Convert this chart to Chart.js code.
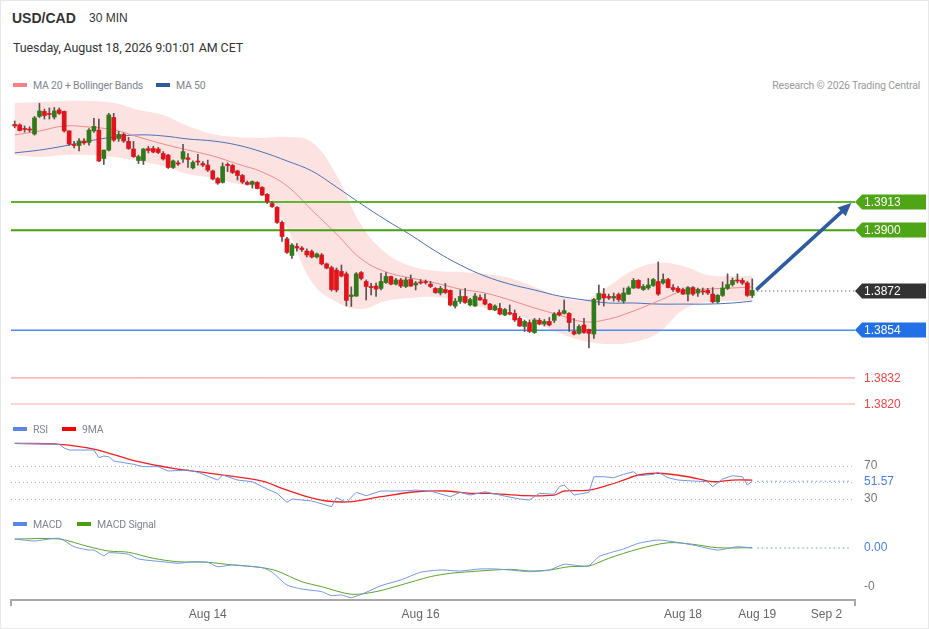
<!DOCTYPE html>
<html>
<head>
<meta charset="utf-8">
<title>USD/CAD 30 MIN</title>
<script src="https://cdn.jsdelivr.net/npm/chart.js@4.4.1/dist/chart.umd.min.js"></script>
<style>
  body { margin: 0; background: #fff; font-family: Roboto, "Liberation Sans", Arial, sans-serif; }
  #page { position: relative; width: 929px; height: 629px; overflow: hidden; outline: 1px solid #e8e8e8; outline-offset: -1px; }
  #page canvas { position: absolute; left: 0; }
  .txt { position: absolute; white-space: nowrap; line-height: 1; color: #333; }
  .leg { position: absolute; white-space: nowrap; font-size: 10.5px; letter-spacing: -0.2px; color: #80868f; line-height: 1; }
  .sw { display: inline-block; width: 14px; height: 4px; margin-right: 6px; vertical-align: 2px; }
</style>
</head>
<body>
<div id="page">
  <canvas id="main" width="929" height="320" style="top:95px"></canvas>
  <canvas id="rsi" width="929" height="95" style="top:420px"></canvas>
  <canvas id="macd" width="929" height="114" style="top:515px"></canvas>

  <div class="txt" style="left:12px;top:11px;font-size:14px;font-weight:bold;font-family:'Liberation Sans',Arial,sans-serif">USD/CAD</div>
  <div class="txt" style="left:89px;top:12px;font-size:12px;font-family:'Liberation Sans',Arial,sans-serif">30 MIN</div>
  <div class="txt" style="left:13px;top:42px;font-size:12.5px;letter-spacing:-0.1px">Tuesday, August 18, 2026 9:01:01 AM CET</div>

  <div class="leg" style="left:13px;top:81px"><span class="sw" style="background:#f98080"></span>MA 20 + Bollinger Bands</div>
  <div class="leg" style="left:156px;top:81px"><span class="sw" style="background:#2f5b9c"></span>MA 50</div>
  <div class="leg" style="right:9px;top:81px;color:#9a9a9a">Research © 2026 Trading Central</div>
  <div class="leg" style="left:13px;top:425px"><span class="sw" style="background:#5b86e5"></span>RSI</div>
  <div class="leg" style="left:62px;top:425px"><span class="sw" style="background:#f00"></span>9MA</div>
  <div class="leg" style="left:13px;top:520px"><span class="sw" style="background:#5b86e5"></span>MACD</div>
  <div class="leg" style="left:77px;top:520px"><span class="sw" style="background:#4a9e12"></span>MACD Signal</div>
</div>

<script>
// candles, 30 min (index 0 = first candle)
const open = [
  1.39487,1.39485,1.39466,1.39466,1.39443,1.39524,1.39547,1.39536,1.39521,1.39554,
  1.39547,1.39457,1.39395,1.39390,1.39411,1.39404,1.39457,1.39461,1.39330,1.39369,
  1.39519,1.39422,1.39441,1.39409,1.39374,1.39321,1.39321,1.39376,1.39376,1.39374,
  1.39353,1.39346,1.39289,1.39310,1.39328,1.39333,1.39287,1.39317,1.39307,1.39300,
  1.39273,1.39238,1.39220,1.39303,1.39298,1.39273,1.39252,1.39220,1.39211,1.39220,
  1.39197,1.39165,1.39123,1.39105,1.39036,1.38960,1.38884,1.38925,1.38918,1.38904,
  1.38902,1.38877,1.38886,1.38845,1.38828,1.38817,1.38810,1.38799,1.38695,1.38697,
  1.38805,1.38764,1.38741,1.38743,1.38732,1.38759,1.38787,1.38752,1.38771,1.38741,
  1.38773,1.38748,1.38762,1.38762,1.38752,1.38732,1.38711,1.38727,1.38723,1.38651,
  1.38672,1.38695,1.38656,1.38651,1.38690,1.38681,1.38660,1.38633,1.38640,1.38610,
  1.38621,1.38617,1.38594,1.38557,1.38575,1.38529,1.38585,1.38568,1.38580,1.38585,
  1.38621,1.38617,1.38617,1.38534,1.38525,1.38564,1.38543,1.38522,1.38681,1.38706,
  1.38695,1.38688,1.38704,1.38674,1.38706,1.38734,1.38769,1.38727,1.38734,1.38746,
  1.38764,1.38757,1.38773,1.38736,1.38732,1.38727,1.38706,1.38736,1.38711,1.38720,
  1.38723,1.38706,1.38670,1.38700,1.38732,1.38750,1.38771,1.38769,1.38757,1.38700
];
const high = [
  1.39503,1.39490,1.39480,1.39476,1.39524,1.39584,1.39558,1.39563,1.39565,1.39563,
  1.39549,1.39459,1.39409,1.39422,1.39422,1.39468,1.39515,1.39512,1.39369,1.39538,
  1.39538,1.39455,1.39448,1.39427,1.39409,1.39346,1.39376,1.39386,1.39386,1.39381,
  1.39362,1.39349,1.39323,1.39319,1.39395,1.39353,1.39319,1.39349,1.39316,1.39323,
  1.39277,1.39243,1.39310,1.39310,1.39303,1.39277,1.39257,1.39227,1.39227,1.39224,
  1.39201,1.39169,1.39132,1.39109,1.39043,1.38967,1.38939,1.38939,1.38925,1.38914,
  1.38909,1.38895,1.38893,1.38849,1.38835,1.38826,1.38840,1.38808,1.38739,1.38805,
  1.38810,1.38771,1.38755,1.38757,1.38801,1.38805,1.38789,1.38778,1.38778,1.38782,
  1.38794,1.38764,1.38773,1.38771,1.38764,1.38736,1.38741,1.38755,1.38725,1.38686,
  1.38725,1.38732,1.38686,1.38709,1.38702,1.38706,1.38663,1.38656,1.38663,1.38640,
  1.38656,1.38633,1.38603,1.38587,1.38587,1.38594,1.38594,1.38589,1.38598,1.38621,
  1.38633,1.38679,1.38621,1.38594,1.38564,1.38594,1.38545,1.38686,1.38748,1.38732,
  1.38706,1.38711,1.38711,1.38734,1.38741,1.38778,1.38773,1.38750,1.38778,1.38778,
  1.38854,1.38799,1.38778,1.38750,1.38741,1.38734,1.38741,1.38741,1.38734,1.38734,
  1.38732,1.38736,1.38704,1.38762,1.38799,1.38780,1.38799,1.38778,1.38764,1.38776
];
const low = [
  1.39471,1.39457,1.39452,1.39452,1.39438,1.39519,1.39512,1.39512,1.39512,1.39533,
  1.39452,1.39390,1.39379,1.39365,1.39395,1.39392,1.39450,1.39316,1.39303,1.39365,
  1.39409,1.39409,1.39404,1.39372,1.39335,1.39307,1.39303,1.39356,1.39356,1.39353,
  1.39323,1.39284,1.39284,1.39298,1.39312,1.39289,1.39282,1.39300,1.39293,1.39270,
  1.39231,1.39211,1.39217,1.39270,1.39261,1.39231,1.39215,1.39208,1.39194,1.39190,
  1.39160,1.39123,1.39105,1.39031,1.38948,1.38893,1.38870,1.38904,1.38902,1.38877,
  1.38872,1.38872,1.38840,1.38822,1.38720,1.38716,1.38785,1.38651,1.38649,1.38695,
  1.38771,1.38679,1.38702,1.38695,1.38725,1.38755,1.38748,1.38748,1.38736,1.38736,
  1.38741,1.38725,1.38752,1.38752,1.38736,1.38709,1.38702,1.38709,1.38651,1.38642,
  1.38663,1.38663,1.38651,1.38649,1.38677,1.38656,1.38633,1.38630,1.38610,1.38607,
  1.38610,1.38580,1.38557,1.38534,1.38529,1.38525,1.38564,1.38559,1.38559,1.38575,
  1.38605,1.38614,1.38534,1.38518,1.38522,1.38525,1.38458,1.38502,1.38656,1.38651,
  1.38681,1.38674,1.38672,1.38665,1.38704,1.38732,1.38732,1.38723,1.38727,1.38741,
  1.38700,1.38752,1.38734,1.38718,1.38713,1.38704,1.38674,1.38700,1.38695,1.38704,
  1.38704,1.38665,1.38665,1.38695,1.38727,1.38743,1.38757,1.38750,1.38695,1.38690
];
const close = [
  1.39480,1.39459,1.39464,1.39461,1.39517,1.39549,1.39528,1.39533,1.39549,1.39538,
  1.39457,1.39397,1.39390,1.39411,1.39402,1.39461,1.39478,1.39319,1.39369,1.39531,
  1.39415,1.39441,1.39411,1.39376,1.39339,1.39339,1.39374,1.39367,1.39360,1.39358,
  1.39328,1.39289,1.39319,1.39305,1.39362,1.39326,1.39312,1.39314,1.39300,1.39277,
  1.39236,1.39217,1.39293,1.39298,1.39266,1.39252,1.39222,1.39211,1.39224,1.39192,
  1.39162,1.39132,1.39109,1.39036,1.38971,1.38898,1.38932,1.38918,1.38911,1.38886,
  1.38877,1.38891,1.38845,1.38826,1.38727,1.38725,1.38789,1.38677,1.38702,1.38799,
  1.38778,1.38741,1.38736,1.38729,1.38764,1.38787,1.38752,1.38771,1.38743,1.38771,
  1.38743,1.38757,1.38757,1.38759,1.38741,1.38713,1.38732,1.38713,1.38656,1.38674,
  1.38695,1.38667,1.38681,1.38697,1.38679,1.38660,1.38635,1.38651,1.38614,1.38635,
  1.38614,1.38587,1.38559,1.38580,1.38534,1.38587,1.38568,1.38580,1.38564,1.38614,
  1.38610,1.38630,1.38575,1.38522,1.38557,1.38529,1.38525,1.38681,1.38709,1.38688,
  1.38688,1.38695,1.38681,1.38711,1.38734,1.38769,1.38734,1.38741,1.38748,1.38773,
  1.38706,1.38773,1.38736,1.38727,1.38718,1.38706,1.38736,1.38706,1.38727,1.38716,
  1.38711,1.38670,1.38700,1.38734,1.38750,1.38769,1.38766,1.38757,1.38700,1.38723
];

// bollinger bands and moving averages, sampled every few candles
const bandIdx = [0,5,10,15,20,25,30,35,40,45,50,55,60,65,70,75,80,85,90,95,100,105,110,115,120,125,130,135,140,145,149];
const bbUpper = [1.39586,1.39590,1.39595,1.39595,1.39586,1.39554,1.39531,1.39480,1.39443,1.39429,1.39425,1.39429,1.39406,1.39254,1.39024,1.38895,
                 1.38835,1.38812,1.38808,1.38799,1.38780,1.38739,1.38697,1.38679,1.38743,1.38817,1.38849,1.38835,1.38794,1.38789,1.38789];
const bbLower = [1.39346,1.39337,1.39346,1.39346,1.39337,1.39319,1.39296,1.39259,1.39241,1.39213,1.39185,1.39010,1.38762,1.38670,1.38637,1.38674,
                 1.38688,1.38693,1.38674,1.38642,1.38619,1.38578,1.38527,1.38490,1.38476,1.38485,1.38527,1.38633,1.38670,1.38674,1.38679];
const ma20 = [1.39439,1.39457,1.39480,1.39475,1.39462,1.39429,1.39397,1.39369,1.39342,1.39305,1.39268,1.39204,1.39093,1.38983,1.38868,1.38808,
              1.38780,1.38757,1.38729,1.38711,1.38679,1.38642,1.38610,1.38578,1.38591,1.38628,1.38674,1.38720,1.38729,1.38734,1.38739];
const ma50 = [1.39356,1.39369,1.39388,1.39411,1.39429,1.39439,1.39434,1.39420,1.39411,1.39392,1.39360,1.39319,1.39273,1.39199,1.39121,1.39047,
              1.38978,1.38904,1.38840,1.38789,1.38752,1.38725,1.38697,1.38679,1.38665,1.38665,1.38660,1.38660,1.38660,1.38665,1.38674];

// levels
const levelValues = [1.3913, 1.3900, 1.3854, 1.3832, 1.3820];
const lastPrice = 1.3872;
const tagValues = [1.3913, 1.3900, 1.3872, 1.3854, 1.3832, 1.3820];
const arrowFrom = [150, 1.3873];
const arrowTo = [169, 1.39125];

// RSI and its 9 period average
const rsiIdx = [0,9,10,11,16,17,18,19,20,24,26,29,31,35,37,41,42,45,48,51,53,55,56,60,64,65,67,69,71,74,78,81,
                84,88,90,92,95,98,102,104,106,109,110,111,113,116,117,119,121,123,125,126,129,130,132,134,137,140,141,143,145,147,148,149];
const rsiVal = [97.5,96.3,91.8,89.4,89.4,80.1,82.1,81.3,76.1,72.1,69.2,69.2,63.9,65.2,62.4,53.0,59.1,53.0,51.0,42.1,36.9,26.0,30.0,27.6,20.7,31.6,26.0,38.1,34.0,39.7,39.7,40.8,
                39.7,32.8,38.1,34.8,38.8,34.8,30.0,28.8,36.9,35.7,44.9,47.0,34.8,38.1,57.0,57.0,55.8,59.9,63.1,58.2,59.9,62.4,55.8,53.0,51.8,51.0,44.9,54.2,58.2,57.0,47.0,51.57];
const rsiMaIdx = [0,9,16,25,32,41,50,54,59,63,68,74,81,87,92,96,103,109,111,116,120,123,126,130,136,141,145,149];
const rsiMaVal = [97.5,96.3,90.6,75.2,67.2,59.9,51.8,43.0,32.8,27.6,26.7,32.8,38.8,39.7,36.9,36.9,34.0,34.8,39.7,40.8,47.0,53.0,59.1,61.2,57.0,51.0,53.0,53.0];
const rsiGrid = [30, 50, 70];
const rsiTicks = [70, 30];

// MACD and signal
const macdIdx = [0,4,9,12,15,16,18,19,23,25,31,33,36,39,41,44,50,52,55,58,62,64,66,68,71,74,78,82,86,90,94,97,100,104,108,111,114,116,118,121,123,126,130,133,137,142,146,149];
const macdVal = [0.000092,0.000072,0.000100,0.000013,-0.000021,-0.000021,-0.000079,-0.000048,-0.000065,-0.000113,-0.000147,-0.000157,-0.000141,-0.000147,-0.000192,-0.000174,
                 -0.000202,-0.000249,-0.000380,-0.000421,-0.000448,-0.000489,-0.000482,-0.000510,-0.000455,-0.000387,-0.000328,-0.000249,-0.000226,-0.000236,-0.000215,-0.000215,
                 -0.000226,-0.000243,-0.000226,-0.000167,-0.000182,-0.000182,-0.000089,-0.000038,-0.000010,0.000048,0.000082,0.000065,0.000031,-0.000021,0.000013,0.000000];
const signalIdx = [0,9,15,19,23,28,33,39,44,50,53,58,62,68,73,78,84,88,92,100,104,108,112,116,120,126,132,137,142,149];
const signalVal = [0.000092,0.000092,0.000013,-0.000031,-0.000044,-0.000106,-0.000141,-0.000147,-0.000174,-0.000202,-0.000236,-0.000346,-0.000397,-0.000475,-0.000448,
                   -0.000380,-0.000294,-0.000260,-0.000243,-0.000219,-0.000236,-0.000226,-0.000192,-0.000185,-0.000106,-0.000010,0.000054,0.000038,0.000003,0.000003];
const macdTicks = [-0.0004];

// x axis labels
const xTickIdx = [39, 82, 135, 150, 164];
const xTickText = ['Aug 14', 'Aug 16', 'Aug 18', 'Aug 19', 'Sep 2'];

const xMin = -0.75, xMax = 169.75;
const GREEN = '#2f7a19', RED = '#e3131b';
const FONT = '"Liberation Sans", Arial, sans-serif';

Chart.defaults.font.family = FONT;
Chart.defaults.animation = false;

function pts(xs, ys) {
    return xs.map(function (x, k) { return { x: x, y: ys[k] }; });
}

const pad = { left: 11, right: 74, top: 0, bottom: 0 };
const hiddenX = { type: 'linear', min: xMin, max: xMax, display: false, offset: false, grid: { offset: false } };

// price panel: tags on the right and the projection arrow
const mainOverlay = {
    id: 'mainOverlay',
    afterDatasetsDraw(chart) {
        const ctx = chart.ctx, xs = chart.scales.x, ys = chart.scales.y;
        const right = chart.chartArea.right;
        ctx.save();

        const x0 = xs.getPixelForValue(arrowFrom[0]), y0 = ys.getPixelForValue(arrowFrom[1]);
        const x1 = xs.getPixelForValue(arrowTo[0]), y1 = ys.getPixelForValue(arrowTo[1]);
        const a = Math.atan2(y1 - y0, x1 - x0);
        const c = Math.cos(a), s = Math.sin(a);
        ctx.strokeStyle = '#2e5c9e';
        ctx.fillStyle = '#2e5c9e';
        ctx.lineWidth = 3.5;
        ctx.lineCap = 'round';
        ctx.beginPath();
        ctx.moveTo(x0, y0);
        ctx.lineTo(x1 - 9 * c, y1 - 9 * s);
        ctx.stroke();
        ctx.beginPath();
        ctx.moveTo(x1, y1);
        ctx.lineTo(x1 - 13 * c + 6 * s, y1 - 13 * s - 6 * c);
        ctx.lineTo(x1 - 13 * c - 6 * s, y1 - 13 * s + 6 * c);
        ctx.closePath();
        ctx.fill();

        const fills = ['#4ea516', '#4ea516', '#333333', '#2270e6', '', ''];
        ctx.font = '12px ' + FONT;
        ctx.textBaseline = 'middle';
        tagValues.forEach(function (v, k) {
            const py = Math.round(ys.getPixelForValue(v));
            if (fills[k]) {
                ctx.fillStyle = fills[k];
                ctx.beginPath();
                ctx.moveTo(right, py);
                ctx.lineTo(right + 7, py - 7.5);
                ctx.lineTo(right + 71, py - 7.5);
                ctx.lineTo(right + 71, py + 7.5);
                ctx.lineTo(right + 7, py + 7.5);
                ctx.closePath();
                ctx.fill();
                ctx.fillStyle = '#ffffff';
            } else {
                ctx.fillStyle = '#f04545';
            }
            ctx.fillText(v.toFixed(4), right + 9, py + 0.5);
        });
        ctx.restore();
    }
};

const levelColors = ['#5eb52f', '#44a012', '#4b8df0', '#f58a8a', '#f7aaaa'];
const levelWidths = [2, 2, 1.5, 1, 1];
const levelSets = levelValues.map(function (v, k) {
    return {
        type: 'line', data: [{ x: xMin, y: v }, { x: xMax, y: v }],
        borderColor: levelColors[k], borderWidth: levelWidths[k], pointRadius: 0, order: 6
    };
});

new Chart(document.getElementById('main'), {
    type: 'bar',
    data: {
        datasets: [
            { type: 'line', data: pts(bandIdx, bbUpper), borderWidth: 0, pointRadius: 0, tension: 0.4, fill: '+1', backgroundColor: '#fde2e2', order: 9 },
            { type: 'line', data: pts(bandIdx, bbLower), borderWidth: 0, pointRadius: 0, tension: 0.4, fill: false, order: 9 },
            { type: 'line', data: pts(bandIdx, ma20), borderColor: '#f28a8a', borderWidth: 1, pointRadius: 0, tension: 0.4, order: 7 },
            { type: 'line', data: pts(bandIdx, ma50), borderColor: '#4a72b8', borderWidth: 1, pointRadius: 0, tension: 0.4, order: 7 }
        ].concat(levelSets).concat([
            { type: 'line', data: [{ x: 150, y: lastPrice }, { x: xMax, y: lastPrice }], borderColor: '#333', borderWidth: 1, borderDash: [1, 3], pointRadius: 0, order: 6 },
            { data: low.map(function (l, i) { return { x: i, y: [l, high[i]] }; }), backgroundColor: '#5e5050', barThickness: 1, grouped: false, order: 2 },
            { data: open.map(function (o, i) { return { x: i, y: [o, close[i]] }; }),
              backgroundColor: close.map(function (c, i) { return c >= open[i] ? GREEN : RED; }),
              barThickness: 4, minBarLength: 1, grouped: false, order: 1 }
        ])
    },
    options: {
        responsive: false,
        events: [],
        layout: { padding: pad },
        plugins: { legend: { display: false }, tooltip: { enabled: false } },
        scales: {
            x: hiddenX,
            y: { min: 1.381493, max: 1.396226, display: false }
        }
    },
    plugins: [mainOverlay]
});

// RSI panel
const rsiOverlay = {
    id: 'rsiOverlay',
    afterDatasetsDraw(chart) {
        const ctx = chart.ctx, ys = chart.scales.y, right = chart.chartArea.right;
        ctx.save();
        ctx.font = '12px ' + FONT;
        ctx.textBaseline = 'middle';
        ctx.fillStyle = '#777';
        rsiTicks.forEach(function (v) { ctx.fillText(String(v), right + 9, ys.getPixelForValue(v)); });
        const last = rsiVal[rsiVal.length - 1];
        ctx.fillStyle = '#4d7ee8';
        ctx.fillText(last.toFixed(2), right + 9, ys.getPixelForValue(last));
        ctx.restore();
    }
};

new Chart(document.getElementById('rsi'), {
    type: 'line',
    data: {
        datasets: [
            { data: pts(rsiIdx, rsiVal), borderColor: '#7296e6', borderWidth: 1, pointRadius: 0 },
            { data: pts(rsiMaIdx, rsiMaVal), borderColor: '#f02020', borderWidth: 1.3, pointRadius: 0, tension: 0.3 },
            { data: [{ x: 150, y: rsiVal[rsiVal.length - 1] }, { x: xMax - 1, y: rsiVal[rsiVal.length - 1] }],
              borderColor: '#6d8fe6', borderWidth: 1, borderDash: [1.5, 3], pointRadius: 0 }
        ]
    },
    options: {
        responsive: false,
        events: [],
        layout: { padding: pad },
        plugins: { legend: { display: false }, tooltip: { enabled: false } },
        scales: {
            x: hiddenX,
            y: {
                min: 10.6, max: 125.8,
                afterBuildTicks: function (s) { s.ticks = rsiGrid.map(function (v) { return { value: v }; }); },
                afterFit: function (s) { s.width = 0; },
                ticks: { display: false },
                grid: { color: '#b8b8b8', drawTicks: false, lineWidth: 1 },
                border: { display: false, dash: [1, 3] }
            }
        }
    },
    plugins: [rsiOverlay]
});

// MACD panel with the time axis
const macdOverlay = {
    id: 'macdOverlay',
    afterDatasetsDraw(chart) {
        const ctx = chart.ctx, ys = chart.scales.y, right = chart.chartArea.right;
        ctx.save();
        ctx.font = '12px ' + FONT;
        ctx.textBaseline = 'middle';
        ctx.fillStyle = '#777';
        macdTicks.forEach(function (v) { ctx.fillText(v.toFixed(0), right + 9, ys.getPixelForValue(v)); });
        const last = macdVal[macdVal.length - 1];
        ctx.fillStyle = '#4d7ee8';
        ctx.fillText(last.toFixed(2), right + 9, ys.getPixelForValue(last));
        ctx.restore();
    }
};

new Chart(document.getElementById('macd'), {
    type: 'line',
    data: {
        datasets: [
            { data: pts(macdIdx, macdVal), borderColor: '#7296e6', borderWidth: 1, pointRadius: 0, tension: 0.2 },
            { data: pts(signalIdx, signalVal), borderColor: '#5aa52c', borderWidth: 1, pointRadius: 0, tension: 0.3 },
            { data: [{ x: 150, y: macdVal[macdVal.length - 1] }, { x: xMax - 1, y: macdVal[macdVal.length - 1] }],
              borderColor: '#6d8fe6', borderWidth: 1, borderDash: [1.5, 3], pointRadius: 0 }
        ]
    },
    options: {
        responsive: false,
        events: [],
        layout: { padding: pad },
        plugins: { legend: { display: false }, tooltip: { enabled: false } },
        scales: {
            x: {
                type: 'linear', min: xMin, max: xMax, offset: false,
                afterBuildTicks: function (s) {
                    s.ticks = [xMin].concat(xTickIdx, [xMax]).map(function (v) { return { value: v }; });
                },
                afterFit: function (s) { s.height = 29; },
                ticks: {
                    autoSkip: false, maxRotation: 0, padding: 1, color: '#666', font: { size: 12 },
                    callback: function (v) {
                        const k = xTickIdx.indexOf(v);
                        return k >= 0 ? xTickText[k] : '';
                    }
                },
                grid: {
                    drawOnChartArea: false, drawTicks: true, tickLength: 6, lineWidth: 2,
                    color: function (c) {
                        return (c.tick && (c.tick.value === xMin || c.tick.value === xMax)) ? '#a8a8a8' : 'rgba(0,0,0,0)';
                    }
                },
                border: { display: true, color: '#a8a8a8', width: 2 }
            },
            y: { min: -0.000534, max: 0.000339, display: false }
        }
    },
    plugins: [macdOverlay]
});
</script>
</body>
</html>
